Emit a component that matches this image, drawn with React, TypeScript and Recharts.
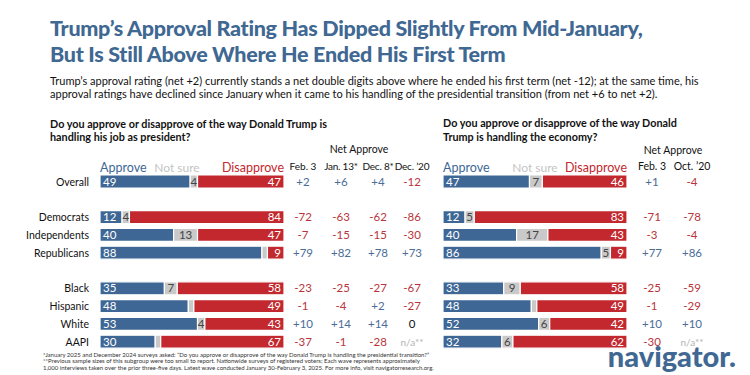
import React from 'react';
import { BarChart, Bar, XAxis, YAxis, LabelList } from 'recharts';

const groups = ['Overall', 'Democrats', 'Independents', 'Republicans', 'Black', 'Hispanic', 'White', 'AAPI'];
// an empty row is drawn after these groups
const breaksAfter = [0, 3];

// job as president
const jobApprove = [49, 12, 40, 88, 35, 48, 53, 30];
const jobNotSure = [4, 4, 13, 3, 7, 3, 4, 3];
const jobDisapprove = [47, 84, 47, 9, 58, 49, 43, 67];
const jobNetFeb3 = [2, -72, -7, 79, -23, -1, 10, -37];
const jobNetJan13 = [6, -63, -15, 82, -25, -4, 14, -1];
const jobNetDec8 = [4, -62, -15, 78, -27, 2, 14, -28];
const jobNetDec20: (number | string)[] = [-12, -86, -30, 73, -67, -27, 0, 'n/a**'];

// economy
const econApprove = [47, 12, 40, 86, 33, 48, 52, 32];
const econNotSure = [7, 5, 17, 5, 9, 3, 6, 6];
const econDisapprove = [46, 83, 43, 9, 58, 49, 42, 62];
const econNetFeb3 = [1, -71, -3, 77, -25, -1, 10, -30];
const econNetOct20: (number | string)[] = [-4, -78, -4, 86, -59, -29, 10, 'n/a**'];

const BLUE = '#3e6795';
const RED = '#c2282e';
const GRAY = '#c9c9c9';
const NET_BLUE = '#4a6d97';
const NET_RED = '#b8353b';
const FONT = 'Lato, "Open Sans", sans-serif';

const buildRows = (approve: number[], notSure: number[], disapprove: number[], nets: (number | string)[][]) => {
  const out: any[] = [];
  groups.forEach((g, i) => {
    const row: any = { name: g, approve: approve[i], notSure: notSure[i], disapprove: disapprove[i] };
    nets.forEach((n, k) => { row['n' + k] = n[i]; });
    out.push(row);
    if (breaksAfter.includes(i)) out.push({ name: 'gap' + i });
  });
  return out;
};

const jobRows = buildRows(jobApprove, jobNotSure, jobDisapprove, [jobNetFeb3, jobNetJan13, jobNetDec8, jobNetDec20]);
const econRows = buildRows(econApprove, econNotSure, econDisapprove, [econNetFeb3, econNetOct20]);

const netLabel = (offset: number) => (props: any) => {
  const { x, y, width, height, value } = props;
  if (value === undefined || value === null) return null;
  let text = String(value);
  let color = '#111';
  if (typeof value === 'string') color = '#b3b3b3';
  else if (value > 0) { text = '+' + value; color = NET_BLUE; }
  else if (value < 0) color = NET_RED;
  return (
    <text x={Number(x) + Number(width) + offset} y={Number(y) + Number(height) / 2 + 4} textAnchor="middle"
      fill={color} fontSize={typeof value === 'string' ? 10 : 11.5} fontFamily={FONT}>
      {text}
    </text>
  );
};

const inLabel = (where: 'left' | 'mid' | 'right') => (props: any) => {
  const { x, y, width, height, value } = props;
  if (value === undefined || value === null) return null;
  if (where === 'mid' && value < 4) return null;
  const cx = where === 'left' ? Number(x) + 3 : where === 'right' ? Number(x) + Number(width) - 3 : Number(x) + Number(width) / 2;
  const anchor = where === 'left' ? 'start' : where === 'right' ? 'end' : 'middle';
  return (
    <text x={cx} y={Number(y) + Number(height) / 2 + 4} textAnchor={anchor}
      fill={where === 'mid' ? '#444' : '#fff'} fontSize={11.5} fontFamily={FONT}>
      {value}
    </text>
  );
};

const Txt = ({ x, y, children, size = 11, color = '#111', weight = 400, align = 'left', ls = 0 }: any) => (
  <div style={{
    position: 'absolute', left: x, top: y, fontSize: size, color, fontWeight: weight, fontFamily: FONT,
    lineHeight: 1, whiteSpace: 'nowrap', letterSpacing: ls,
    transform: `translate(${align === 'center' ? '-50%' : align === 'right' ? '-100%' : '0'}, -50%)`,
  }}>{children}</div>
);

const Panel = ({ rows, nets, withAxis }: any) => (
  <BarChart width={withAxis ? 430 : 300} height={178} data={rows} layout="vertical"
    margin={{ top: 0, right: withAxis ? 146 : 116, bottom: 0, left: 0 }} barSize={13}>
    <XAxis type="number" domain={[0, 100]} hide />
    <YAxis type="category" dataKey="name" hide={!withAxis} width={100} axisLine={false} tickLine={false}
      tickMargin={5} interval={0}
      tick={{ fontSize: 10.5, fill: '#111', fontFamily: FONT }}
      tickFormatter={(v: string) => (v.startsWith('gap') ? '' : v)} />
    <Bar dataKey="approve" stackId="a" fill={BLUE} stroke="#fff" strokeWidth={1.2} isAnimationActive={false}>
      <LabelList dataKey="approve" content={inLabel('left')} />
    </Bar>
    <Bar dataKey="notSure" stackId="a" fill={GRAY} stroke="#fff" strokeWidth={1.2} isAnimationActive={false}>
      <LabelList dataKey="notSure" content={inLabel('mid')} />
    </Bar>
    <Bar dataKey="disapprove" stackId="a" fill={RED} stroke="#fff" strokeWidth={1.2} isAnimationActive={false}>
      <LabelList dataKey="disapprove" content={inLabel('right')} />
      {nets.map((off: number, k: number) => (
        <LabelList key={k} dataKey={'n' + k} content={netLabel(off)} />
      ))}
    </Bar>
  </BarChart>
);

export default function App() {
  return (
    <div style={{ position: 'absolute', left: 0, top: 0, width: 750, height: 375, background: '#fff', overflow: 'hidden', fontFamily: FONT }}>
      <Txt x={50} y={29} size={21.5} weight={900} color="#3f6893" ls={-0.3}>Trump’s Approval Rating Has Dipped Slightly From Mid-January,</Txt>
      <Txt x={50} y={55} size={21.5} weight={900} color="#3f6893" ls={-0.3}>But Is Still Above Where He Ended His First Term</Txt>
      <Txt x={50} y={80} size={11}>Trump’s approval rating (net +2) currently stands a net double digits above where he ended his first term (net -12); at the same time, his</Txt>
      <Txt x={50} y={93} size={11}>approval ratings have declined since January when it came to his handling of the presidential transition (from net +6 to net +2).</Txt>

      <Txt x={50} y={124} size={10.8} weight={700}>Do you approve or disapprove of the way Donald Trump is</Txt>
      <Txt x={50} y={137} size={10.8} weight={700}>handling his job as president?</Txt>
      <Txt x={359} y={149} size={10.5} align="center">Net Approve</Txt>
      <Txt x={100} y={168} size={12.5} color={BLUE}>Approve</Txt>
      <Txt x={177} y={168} size={12} color="#c4c4c4" align="center">Not sure</Txt>
      <Txt x={284} y={168} size={12.5} color={RED} align="right">Disapprove</Txt>
      <Txt x={303} y={166} size={10} align="center">Feb. 3</Txt>
      <Txt x={341} y={166} size={10} align="center" ls={-0.2}>Jan. 13*</Txt>
      <Txt x={378} y={166} size={10} align="center" ls={-0.2}>Dec. 8*</Txt>
      <Txt x={412} y={166} size={10} align="center" ls={-0.2}>Dec. ’20</Txt>

      <Txt x={443} y={123} size={10.8} weight={700}>Do you approve or disapprove of the way Donald</Txt>
      <Txt x={443} y={137} size={10.8} weight={700}>Trump is handling the economy?</Txt>
      <Txt x={673} y={150} size={10.5} align="center">Net Approve</Txt>
      <Txt x={443} y={168} size={12.5} color={BLUE}>Approve</Txt>
      <Txt x={535} y={168} size={12} color="#c4c4c4" align="center">Not sure</Txt>
      <Txt x={627} y={168} size={12.5} color={RED} align="right">Disapprove</Txt>
      <Txt x={652} y={166} size={10.5} align="center">Feb. 3</Txt>
      <Txt x={692} y={166} size={10.5} align="center">Oct. ’20</Txt>

      <div style={{ position: 'absolute', left: 0, top: 173 }}>
        <Panel rows={jobRows} nets={[19, 57, 94, 128]} withAxis />
      </div>
      <div style={{ position: 'absolute', left: 443, top: 173 }}>
        <Panel rows={econRows} nets={[25, 65]} withAxis={false} />
      </div>

      <div style={{ position: 'absolute', left: 43, top: 352, fontSize: 6, lineHeight: '6.3px', color: '#333', fontFamily: FONT, whiteSpace: 'nowrap' }}>
        <div>*January 2025 and December 2024 surveys asked: “Do you approve or disapprove of the way Donald Trump is handling the presidential transition?”</div>
        <div>**Previous sample sizes of this subgroup were too small to report. Nationwide surveys of registered voters; Each wave represents approximately</div>
        <div>1,000 interviews taken over the prior three-five days. Latest wave conducted January 30-February 3, 2025. For more info, visit navigatorresearch.org.</div>
      </div>
      <svg style={{ position: 'absolute', left: 570, top: 348, overflow: 'visible' }} width={170} height={27}>
        <text x={166} y={19} textAnchor="end" fontSize={29} fontWeight={900} fill="#3f6893" fontFamily={FONT}>navigator.</text>
      </svg>
    </div>
  );
}
